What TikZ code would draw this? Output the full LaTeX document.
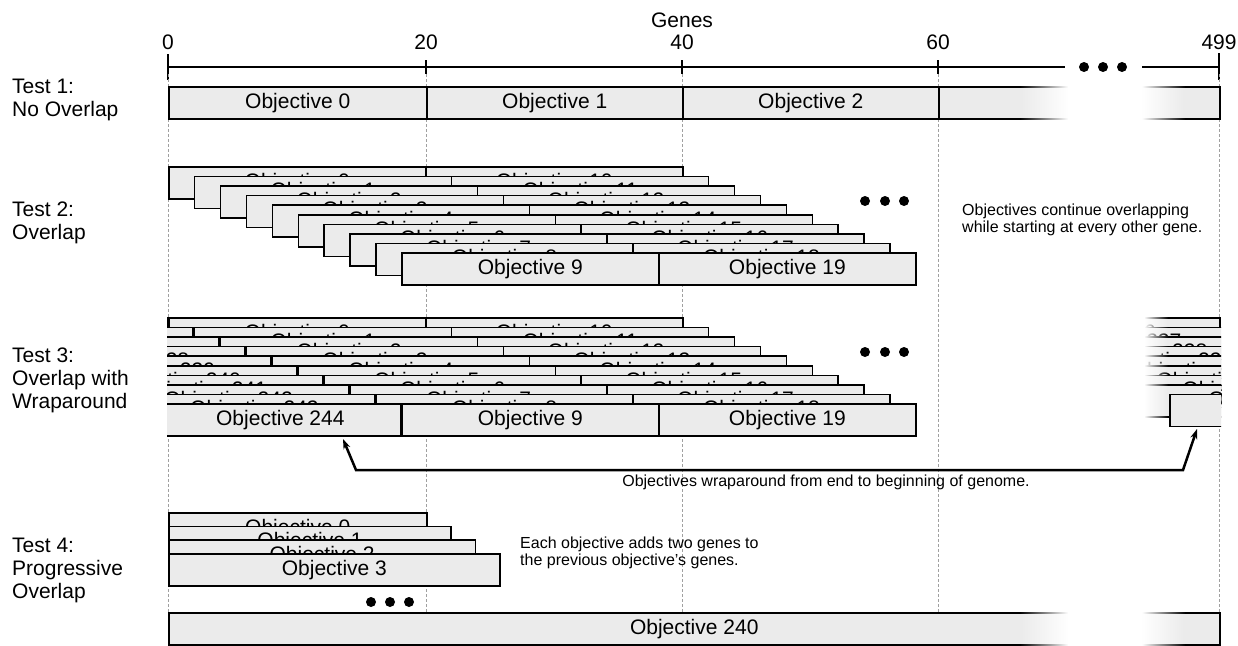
\documentclass[tikz,border=0pt]{standalone}
\usepackage{fontspec}
\setmainfont{Liberation Sans}
\usetikzlibrary{arrows.meta,fadings}
\definecolor{boxfill}{RGB}{235,235,235}
\definecolor{guidegray}{RGB}{160,160,160}
\newcommand{\bigfont}{\fontsize{21}{23}\selectfont}
\newcommand{\smallfont}{\fontsize{16}{17}\selectfont}
\tikzfading[name=fadetowhite, left color=transparent!100, right color=transparent!0]
\tikzfading[name=fadefromwhite, left color=transparent!0, right color=transparent!100]
\tikzset{
  objbox/.style={draw, line width=1.5pt, fill=boxfill, minimum height=32pt,
    inner sep=0pt, anchor=north west, font=\bigfont},
  axisline/.style={line width=2.5pt},
  guide/.style={draw=guidegray, line width=1pt, dash pattern=on 3pt off 2pt},
  dotmark/.style={circle, fill, inner sep=0pt, minimum size=10pt},
  testlabel/.style={anchor=west, align=left, inner sep=0pt, font=\bigfont},
  note/.style={anchor=west, align=left, inner sep=0pt, font=\smallfont}
}
\begin{document}
\begin{tikzpicture}[x=1pt,y=-1pt]
\fill[white] (0,0) rectangle (1238,645);
\useasboundingbox (0,0) rectangle (1238,645);

% gene axis
\node[font=\bigfont] (genes) at (682,20) {Genes};
\draw[axisline] (168,67) -- (1065,67);
\draw[axisline] (1142,67) -- (1219,67);
\draw[axisline] (168,54) -- (168,80);
\draw[axisline] (1219,53) -- (1219,80);
\node[font=\bigfont] (g0) at (168,42) {0};
\node[font=\bigfont] (g499) at (1219,42) {499};
\foreach \g/\x in {20/426,40/682,60/938}{
  \draw[axisline] (\x,60) -- (\x,74);
  \node[font=\bigfont] (g\g) at (\x,42) {\g};
}
\foreach \i/\x in {1/1084,2/1103,3/1122}
  \node[dotmark] (axdot\i) at (\x,67) {};

% guide lines
\foreach \x in {168,426,682,938,1219}
  \draw[guide] (\x,74) -- (\x,612);

% test labels
\node[testlabel] (test1) at (12,99.5) {Test 1:\\No Overlap};
\node[testlabel] (test2) at (12,223) {Test 2:\\Overlap};
\node[testlabel] (test3) at (12,380) {Test 3:\\Overlap with\\Wraparound};
\node[testlabel] (test4) at (12,570) {Test 4:\\Progressive\\Overlap};

% test 1
\node[objbox, minimum width=258pt] (t1a) at (168,86) {Objective 0};
\node[objbox, minimum width=256pt] (t1b) at (426,86) {Objective 1};
\node[objbox, minimum width=256pt] (t1c) at (682,86) {Objective 2};
\node[objbox, minimum width=281pt] (t1d) at (938,86) {};
\fill[white, path fading=fadetowhite] (1020,82) rectangle (1068,122);
\fill[white] (1068,82) rectangle (1142,122);
\fill[white, path fading=fadefromwhite] (1142,82) rectangle (1185,122);

% test 2
\foreach \r in {0,...,9}{
  \pgfmathtruncatemacro\s{\r+10}
  \node[objbox, minimum width=257pt] (t2a\r) at ({168+25.9*\r},{166+9.6*\r}) {Objective \r};
  \node[objbox, minimum width=257pt] (t2b\r) at ({425+25.9*\r},{166+9.6*\r}) {Objective \s};
}
\foreach \i/\x in {1/865,2/885,3/904}
  \node[dotmark] (t2dot\i) at (\x,201) {};
\node[note] (t2note) at (962,220) {Objectives continue overlapping\\while starting at every other gene.};

% test 3
\begin{scope}
\clip (167,305) rectangle (930,445);
\foreach \r in {0,...,9}{
  \pgfmathtruncatemacro\w{235+\r}
  \pgfmathtruncatemacro\s{\r+10}
  \node[objbox, minimum width=240pt, anchor=north east] (t3w\r) at ({168+25.9*\r},{317+9.6*\r}) {Objective \w};
  \node[objbox, minimum width=257pt] (t3a\r) at ({168+25.9*\r},{317+9.6*\r}) {Objective \r};
  \node[objbox, minimum width=257pt] (t3b\r) at ({425+25.9*\r},{317+9.6*\r}) {Objective \s};
}
\end{scope}
\begin{scope}
\clip (1145,305) rectangle (1221,440);
\foreach \r in {0,...,8}{
  \pgfmathtruncatemacro\w{236+\r}
  \node[objbox, minimum width=257pt] (t3e\r) at ({962+25.9*\r},{317+9.6*\r}) {Objective \w};
}
\end{scope}
\fill[white, path fading=fadefromwhite] (1144,305) rectangle (1168,432);
\foreach \i/\x in {1/865,2/885,3/904}
  \node[dotmark] (t3dot\i) at (\x,352) {};

\coordinate (wrapL) at (343,439);
\coordinate (wrapLc) at (356,470);
\coordinate (wrapRc) at (1183,470);
\coordinate (wrapR) at (1197,429);
\draw[line width=2.5pt, {Stealth[length=10pt,width=7pt]}-{Stealth[length=10pt,width=7pt]}]
  (wrapL) -- (wrapLc) -- (wrapRc) -- (wrapR);
\node[font=\smallfont] (wraptext) at (826,482) {Objectives wraparound from end to beginning of genome.};

% test 4
\foreach \k in {0,...,3}
  \node[objbox, minimum width={258+24.4*\k}] (t4\k) at (168,{512+13.7*\k}) {Objective \k};
\foreach \i/\x in {1/371,2/390,3/409}
  \node[dotmark] (t4dot\i) at (\x,602) {};
\node[note] (t4note) at (520,553) {Each objective adds two genes to\\the previous objective's genes.};
\node[objbox, minimum width=1051pt] (t4last) at (168,612) {Objective 240};
\fill[white, path fading=fadetowhite] (1020,608) rectangle (1068,648);
\fill[white] (1068,608) rectangle (1142,648);
\fill[white, path fading=fadefromwhite] (1142,608) rectangle (1185,648);
\end{tikzpicture}
\end{document}
